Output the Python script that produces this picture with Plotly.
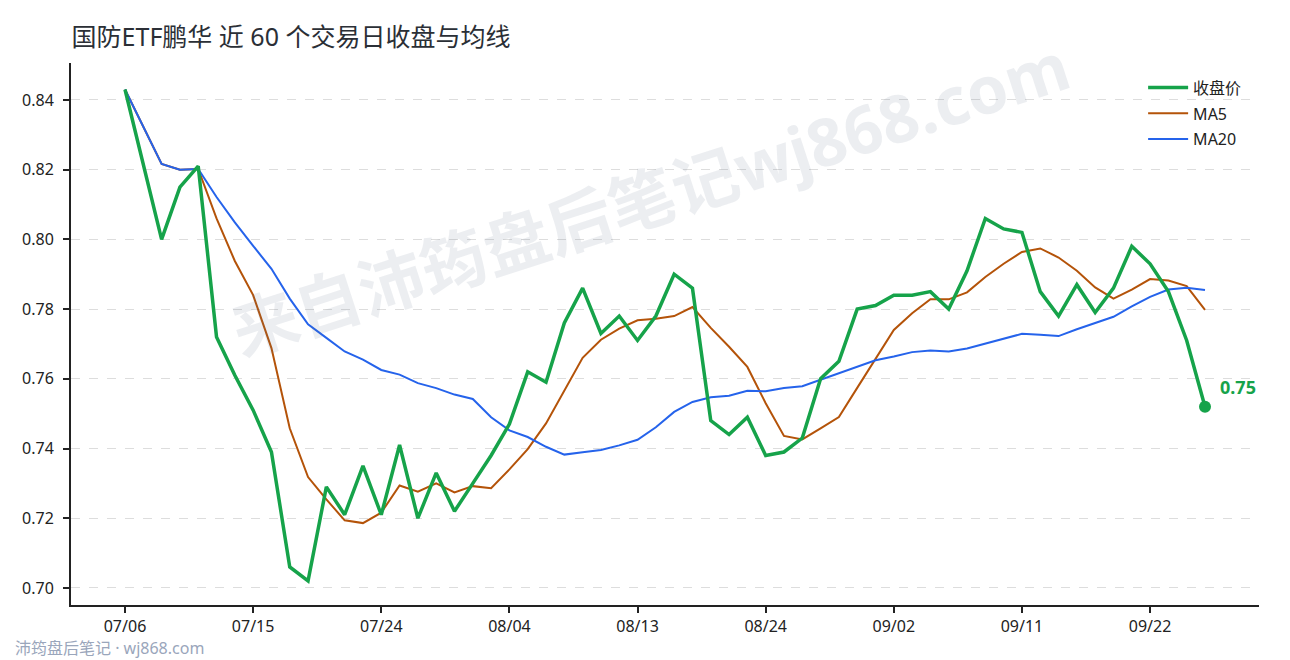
import pandas as pd
import plotly.graph_objects as go

# 近 60 个交易日（2026-07-06 ~ 2026-09-25）
dates = [
    "07/06", "07/07", "07/08", "07/09", "07/10", "07/13", "07/14", "07/15", "07/16", "07/17",
    "07/20", "07/21", "07/22", "07/23", "07/24", "07/27", "07/28", "07/29", "07/30", "07/31",
    "08/03", "08/04", "08/05", "08/06", "08/07", "08/10", "08/11", "08/12", "08/13", "08/14",
    "08/17", "08/18", "08/19", "08/20", "08/21", "08/24", "08/25", "08/26", "08/27", "08/28",
    "08/31", "09/01", "09/02", "09/03", "09/04", "09/07", "09/08", "09/09", "09/10", "09/11",
    "09/14", "09/15", "09/16", "09/17", "09/18", "09/21", "09/22", "09/23", "09/24", "09/25",
]

close = [
    0.843, 0.822, 0.800, 0.815, 0.821, 0.772, 0.761, 0.751, 0.739, 0.706,
    0.702, 0.729, 0.721, 0.735, 0.721, 0.741, 0.720, 0.733, 0.722, 0.730,
    0.738, 0.747, 0.762, 0.759, 0.776, 0.786, 0.773, 0.778, 0.771, 0.778,
    0.790, 0.786, 0.748, 0.744, 0.749, 0.738, 0.739, 0.743, 0.760, 0.765,
    0.780, 0.781, 0.784, 0.784, 0.785, 0.780, 0.791, 0.806, 0.803, 0.802,
    0.785, 0.778, 0.787, 0.779, 0.786, 0.798, 0.793, 0.785, 0.771, 0.752,
]

tick_dates = dates[::7]
y_ticks = [0.70, 0.72, 0.74, 0.76, 0.78, 0.80, 0.82, 0.84]

s = pd.Series(close)
ma5 = s.rolling(5, min_periods=1).mean()
ma20 = s.rolling(20, min_periods=1).mean()

GREEN = "#16a34a"
ORANGE = "#b45309"
BLUE = "#2563eb"
FONT = "Noto Sans, Noto Sans CJK SC, sans-serif"

fig = go.Figure()

fig.add_trace(go.Scatter(x=dates, y=ma5, mode="lines", name="MA5",
                         line=dict(color=ORANGE, width=2),
                         legendrank=2, legendgroup="ma5"))
fig.add_trace(go.Scatter(x=dates, y=ma20, mode="lines", name="MA20",
                         line=dict(color=BLUE, width=2),
                         legendrank=3, legendgroup="ma20"))
fig.add_trace(go.Scatter(x=dates, y=close, mode="lines", name="收盘价",
                         line=dict(color=GREEN, width=3.5),
                         legendrank=1, legendgroup="close"))
# 最后一个收盘点
fig.add_trace(go.Scatter(x=[dates[-1]], y=[close[-1]], mode="markers",
                         marker=dict(color=GREEN, size=12), showlegend=False,
                         hoverinfo="skip"))

fig.add_annotation(x=dates[-1], y=close[-1], text="<b>%.2f</b>" % close[-1],
                   showarrow=False, xanchor="left", yanchor="middle",
                   xshift=13, yshift=20,
                   font=dict(family=FONT, size=18, color=GREEN))

# 水印
fig.add_annotation(xref="paper", yref="paper", x=0.487, y=0.753,
                   xanchor="center", yanchor="middle",
                   text="<b>来自沛筠盘后笔记wj868.com</b>", showarrow=False,
                   textangle=-18,
                   font=dict(family=FONT, size=66, color="rgba(100,116,139,0.12)"))

# 底部来源
fig.add_annotation(xref="paper", yref="paper", x=-0.049, y=-0.079,
                   xanchor="left", yanchor="middle",
                   text="沛筠盘后笔记 · wj868.com", showarrow=False,
                   font=dict(family=FONT, size=16, color="#9aa6bb"))

fig.update_layout(
    width=1290, height=660,
    margin=dict(l=71, r=31, t=63, b=55),
    paper_bgcolor="white", plot_bgcolor="white",
    font=dict(family=FONT, size=16, color="#222"),
    title=dict(text="国防ETF鹏华 近 60 个交易日收盘与均线",
               xref="container", yref="container",
               x=0.0555, xanchor="left", y=0.944, yanchor="middle",
               font=dict(family=FONT, size=25, color="#2b2f36")),
    legend=dict(x=0.99, y=0.986, xanchor="right", yanchor="top",
                bgcolor="rgba(255,255,255,0)", itemwidth=40,
                tracegroupgap=2,
                font=dict(family=FONT, size=16, color="#222")),
    showlegend=True,
)

fig.update_xaxes(
    type="category", range=[-2.95, 61.95],
    tickvals=tick_dates, ticktext=tick_dates,
    showgrid=False, zeroline=False,
    showline=True, linecolor="#222", linewidth=2,
    ticks="outside", ticklen=6, tickwidth=1.5, tickcolor="#222",
    tickfont=dict(family=FONT, size=16, color="#222"),
)
fig.update_yaxes(
    range=[0.6951, 0.8506],
    tickvals=y_ticks, tickformat=".2f",
    showgrid=True, gridcolor="#dddddd", gridwidth=1, griddash="dash",
    zeroline=False,
    showline=True, linecolor="#222", linewidth=2,
    ticks="outside", ticklen=6, tickwidth=1.5, tickcolor="#222",
    tickfont=dict(family=FONT, size=16, color="#222"),
    ticklabelstandoff=6,
)

fig.write_html("out.html", config={"displayModeBar": False},
               post_script="document.body.style.margin='0';")
